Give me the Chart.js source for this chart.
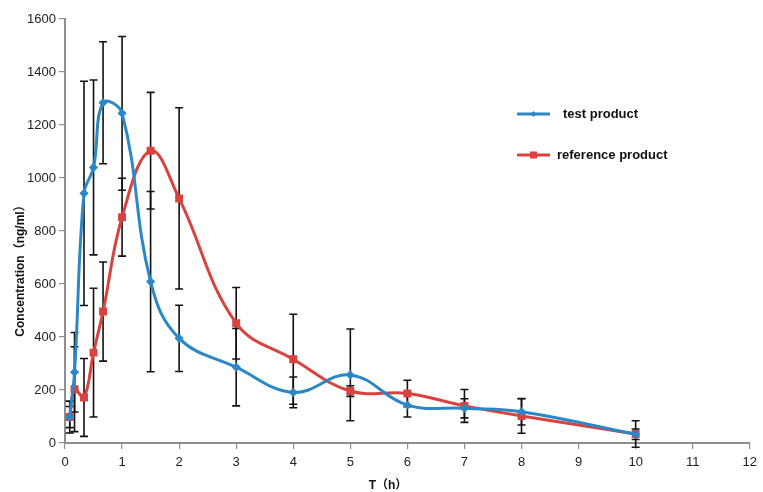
<!DOCTYPE html>
<html>
<head>
<meta charset="utf-8">
<script src="https://cdn.jsdelivr.net/npm/chart.js@4"></script>
<style>
  html, body { margin: 0; padding: 0; background: #fff; }
  #wrap { width: 763px; height: 492px; position: relative; }
</style>
</head>
<body>
<div id="wrap"><canvas id="pkChart"></canvas></div>
<script>
// sampling times (h)
const times = [0.083, 0.167, 0.333, 0.5, 0.667, 1, 1.5, 2, 3, 4, 5, 6, 7, 8, 10];

// mean concentrations (ng/ml) and SD
const testMean = [98, 267, 942, 1040, 1284, 1244, 609, 395, 286, 191, 257, 143, 131, 118, 33];
const testSD   = [40, 150, 423, 330, 230, 290, 340, 125, 146, 58, 173, 45, 36, 50, 20];
const refMean  = [98, 203, 172, 341, 496, 852, 1103, 923, 452, 316, 196, 187, 140, 102, 34];
const refSD    = [60, 160, 147, 243, 187, 147, 220, 342, 135, 170, 20, 50, 62, 65, 50];

const seriesNames = ['test product', 'reference product'];
const xTitle = 'T（h）';
const yTitle = 'Concentration（ng/ml）';
const blue = '#2B87C6';
const red = '#D8433F';
const axisGray = '#8f8f8f';
const fontFam = '"Liberation Sans", Arial, "Noto Sans CJK SC", sans-serif';

function toPoints(means) {
  return times.map((t, i) => ({ x: t, y: means[i] }));
}

// draws vertical error bars with caps, using the chart scales
const errorBars = {
  id: 'errorBars',
  beforeDatasetsDraw(chart) {
    const ctx = chart.ctx;
    const xs = chart.scales.x;
    const ys = chart.scales.y;
    const sds = [testSD, refSD];
    const means = [testMean, refMean];
    ctx.save();
    ctx.strokeStyle = '#111';
    ctx.lineWidth = 1.6;
    for (let s = 0; s < 2; s++) {
      for (let i = 0; i < times.length; i++) {
        const px = xs.getPixelForValue(times[i]);
        const top = ys.getPixelForValue(means[s][i] + sds[s][i]);
        const bot = ys.getPixelForValue(means[s][i] - sds[s][i]);
        ctx.beginPath();
        ctx.moveTo(px, top); ctx.lineTo(px, bot);
        ctx.moveTo(px - 4, top); ctx.lineTo(px + 4, top);
        ctx.moveTo(px - 4, bot); ctx.lineTo(px + 4, bot);
        ctx.stroke();
      }
    }
    ctx.restore();
  }
};

// legend inside the plot and the two axis titles, placed like the original
const annotations = {
  id: 'annotations',
  afterDraw(chart) {
    const ctx = chart.ctx;
    const rows = [
      { y: 114, color: blue, square: false, textX: 563 },
      { y: 155, color: red, square: true, textX: 557 }
    ];
    ctx.save();
    rows.forEach((r, i) => {
      ctx.strokeStyle = r.color;
      ctx.lineWidth = 3;
      ctx.beginPath();
      ctx.moveTo(517, r.y); ctx.lineTo(550, r.y);
      ctx.stroke();
      ctx.fillStyle = r.color;
      if (r.square) {
        ctx.fillRect(530, r.y - 3.5, 7, 7);
      } else {
        ctx.beginPath();
        ctx.moveTo(533.5, r.y - 3); ctx.lineTo(536.5, r.y);
        ctx.lineTo(533.5, r.y + 3); ctx.lineTo(530.5, r.y);
        ctx.fill();
      }
      ctx.fillStyle = '#111';
      ctx.font = 'bold 13px ' + fontFam;
      ctx.textBaseline = 'middle';
      ctx.textAlign = 'left';
      ctx.fillText(seriesNames[i], r.textX, r.y);
    });

    ctx.font = 'bold 12px ' + fontFam;
    ctx.fillStyle = '#111';
    ctx.textAlign = 'center';
    ctx.textBaseline = 'middle';
    ctx.fillText(xTitle, 388, 486);

    ctx.translate(21, 268);
    ctx.rotate(-Math.PI / 2);
    ctx.fillText(yTitle, 0, 0);
    ctx.restore();
  }
};

const ctx = document.getElementById('pkChart').getContext('2d');

const pkChart = new Chart(ctx, {
  type: 'line',
  data: {
    datasets: [
      {
        label: seriesNames[0],
        data: toPoints(testMean),
        borderColor: blue,
        backgroundColor: blue,
        borderWidth: 3,
        tension: 0.4,
        pointStyle: 'rectRot',
        pointRadius: 2.5,
        pointHoverRadius: 2.5
      },
      {
        label: seriesNames[1],
        data: toPoints(refMean),
        borderColor: red,
        backgroundColor: red,
        borderWidth: 3,
        tension: 0.4,
        pointStyle: 'rect',
        pointRadius: 3.5,
        pointHoverRadius: 3.5
      }
    ]
  },
  options: {
    responsive: true,
    maintainAspectRatio: false,
    animation: false,
    layout: { padding: { top: 19, right: 13, left: 0, bottom: 0 } },
    plugins: {
      legend: { display: false },
      tooltip: { enabled: false }
    },
    scales: {
      x: {
        type: 'linear',
        min: 0,
        max: 12,
        afterFit(scale) { scale.height = 49; },
        ticks: {
          stepSize: 1,
          color: '#222',
          font: { family: fontFam, size: 13 },
          padding: 6
        },
        grid: { display: true, drawOnChartArea: false, tickLength: 6, color: axisGray, lineWidth: 1.2 },
        border: { color: axisGray, width: 2 }
      },
      y: {
        min: 0,
        max: 1600,
        afterFit(scale) { scale.width = 65; },
        ticks: {
          stepSize: 200,
          color: '#222',
          font: { family: fontFam, size: 13 },
          padding: 3,
          callback: v => String(v)
        },
        grid: { display: true, drawOnChartArea: false, tickLength: 6, color: axisGray, lineWidth: 1.2 },
        border: { color: axisGray, width: 2 }
      }
    }
  },
  plugins: [errorBars, annotations]
});
</script>
</body>
</html>
